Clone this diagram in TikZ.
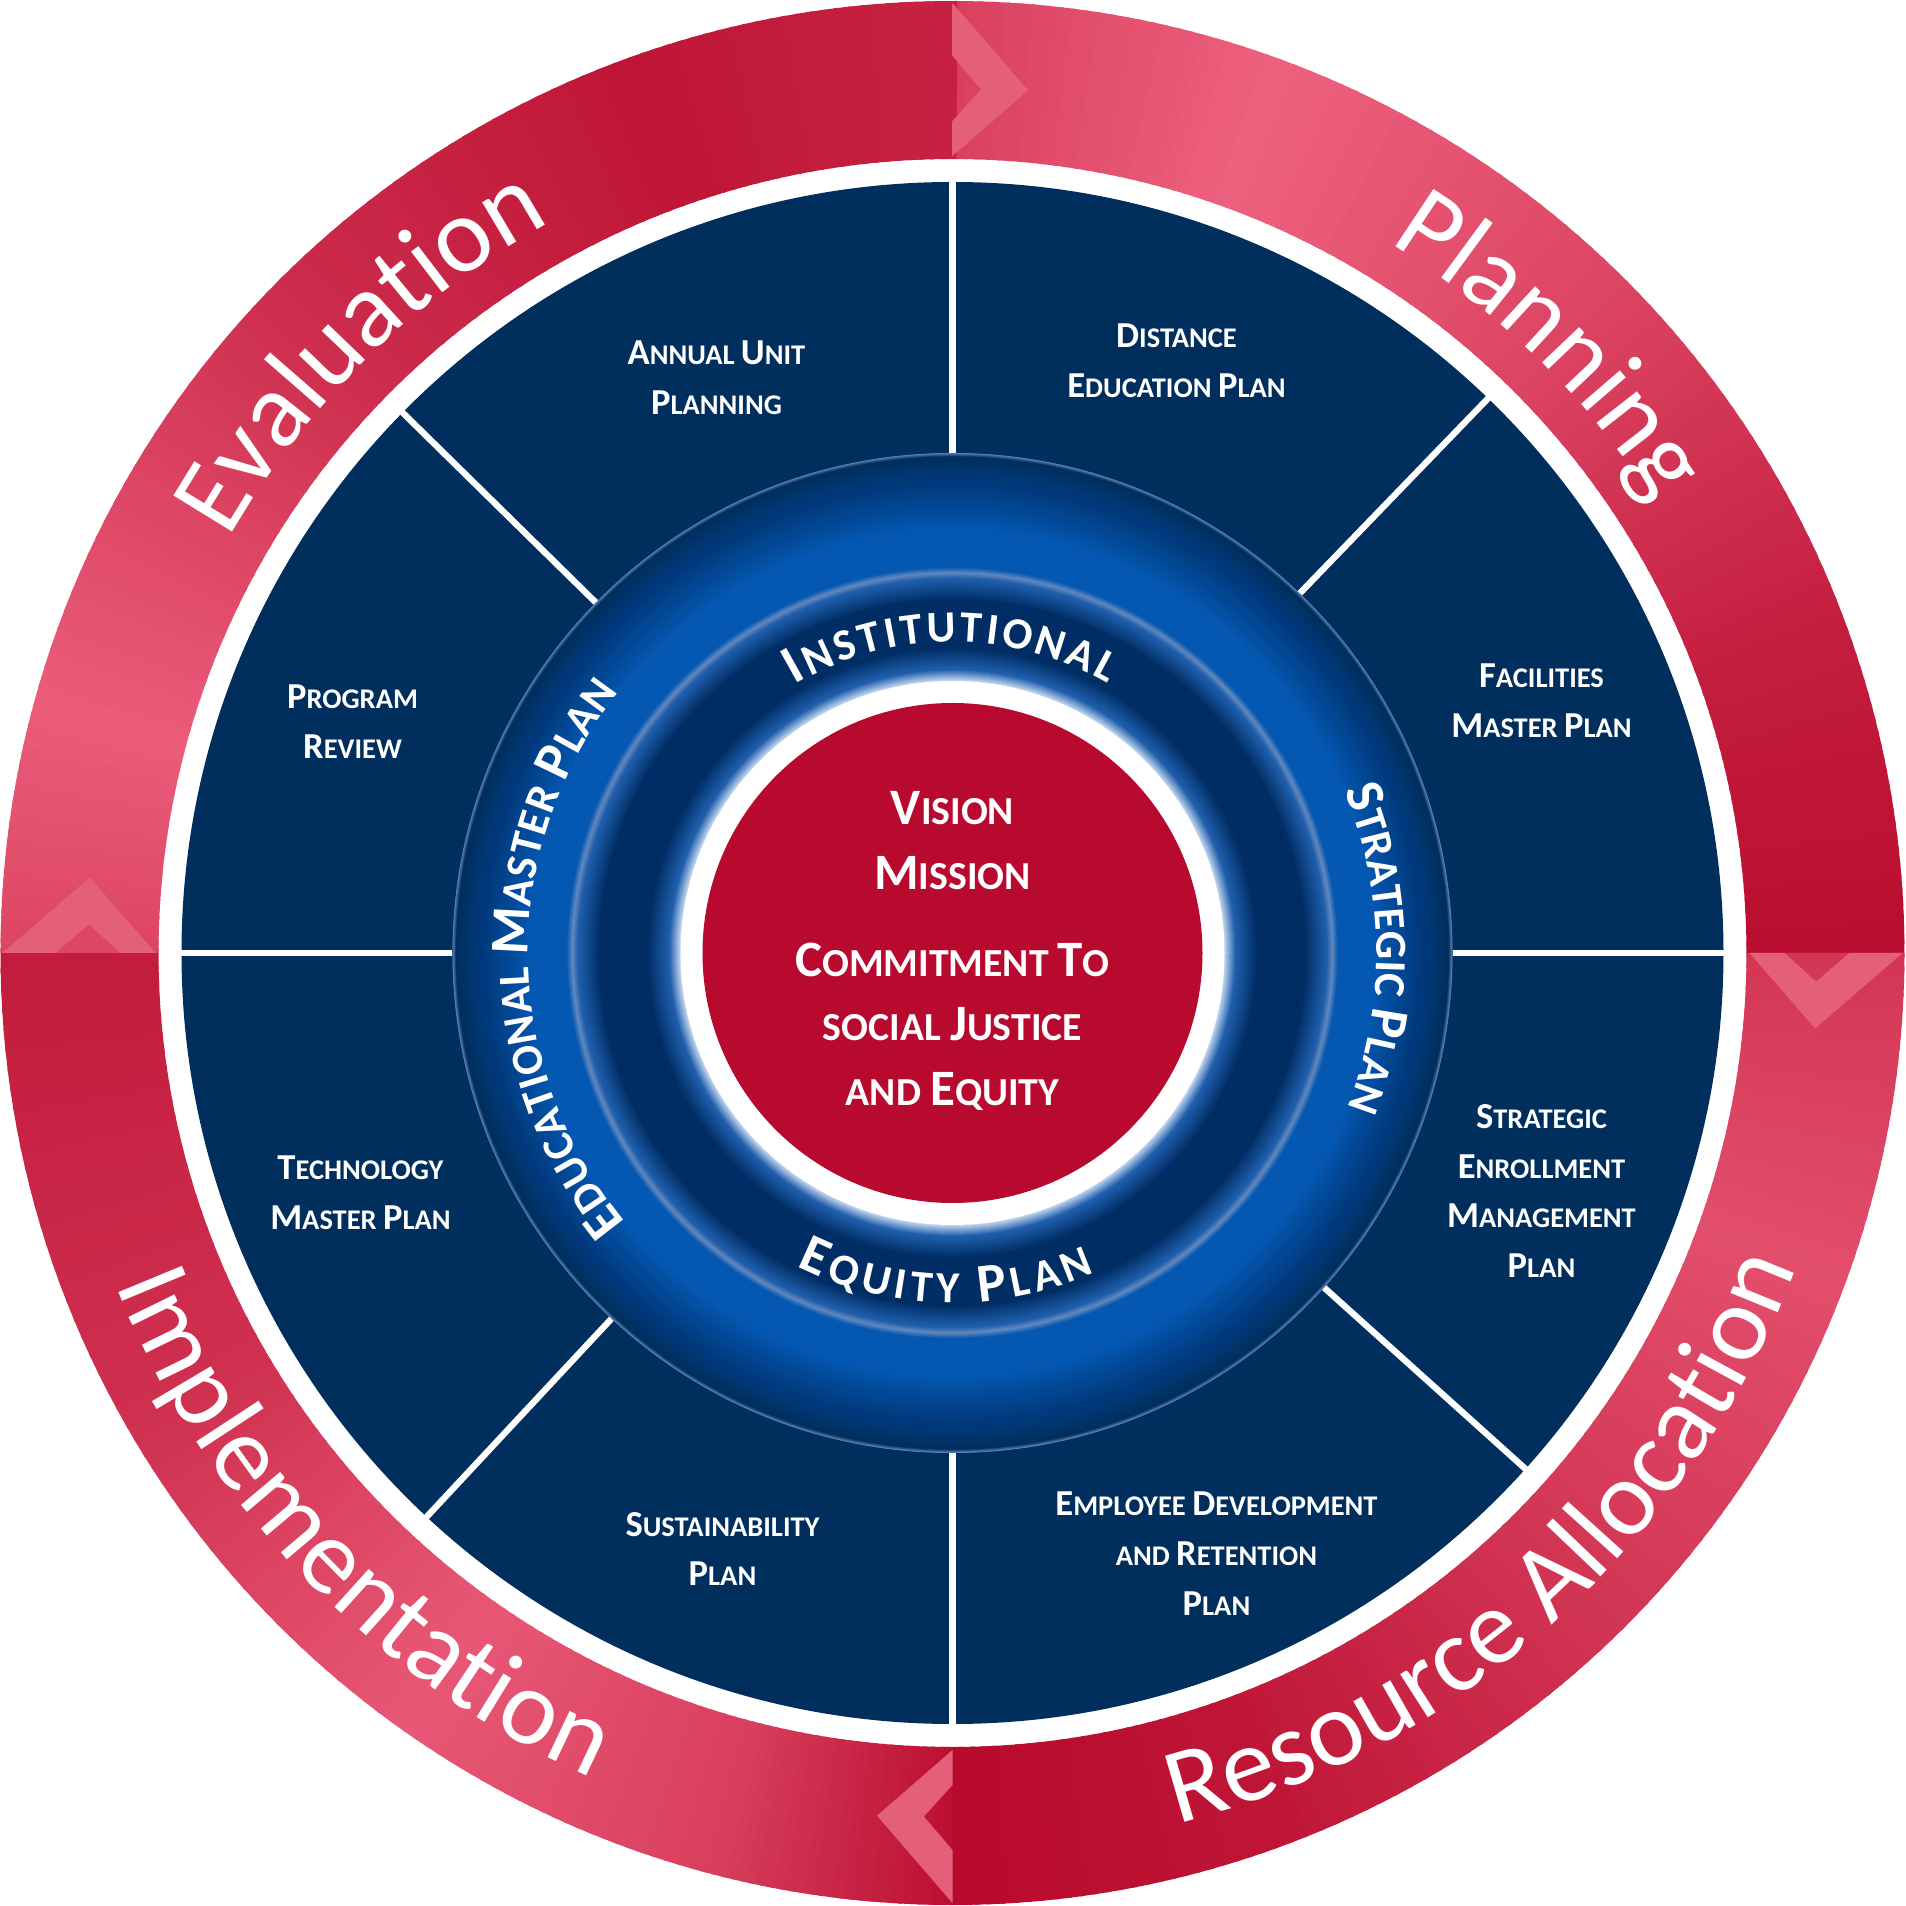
\documentclass[tikz,border=0pt]{standalone}
\usepackage{fontspec}
\setmainfont{Carlito}
\usetikzlibrary{decorations.text}

\definecolor{NavyBlue}{RGB}{0,47,94}
\definecolor{CoreRed}{RGB}{184,10,46}
\definecolor{RingDark}{RGB}{184,10,44}
\definecolor{RingLight}{RGB}{244,108,136}
\definecolor{ChevronEdge}{RGB}{228,96,122}
\definecolor{ChevronLight}{RGB}{242,184,195}
\definecolor{GlowWhite}{RGB}{190,212,238}
\definecolor{GlowSoft}{RGB}{30,92,170}
\definecolor{InnerNavy}{RGB}{0,46,100}
\definecolor{RimBlue}{RGB}{95,135,190}
\definecolor{BandBlue}{RGB}{4,88,178}
\definecolor{BandDeep}{RGB}{0,58,124}

\newcommand{\PlanCap}[1]{{\fontsize{10.4}{14.2}\selectfont #1}}
\newcommand{\CoreCap}[1]{{\fontsize{14.5}{18.4}\selectfont #1}}
\newcommand{\cyclefont}{\fontsize{30.5}{36}\selectfont}
\newcommand{\bandcap}{\bfseries\fontsize{15.5}{18}\selectfont}
\newcommand{\bandsc}{\bfseries\fontsize{12.6}{15}\selectfont}

\begin{document}
\begin{tikzpicture}[
        x=0.01cm, y=0.01cm,
        plan/.style={text=white, font=\bfseries\fontsize{8.1}{14.2}\selectfont, align=center, inner sep=0pt},
        core/.style={text=white, font=\bfseries\fontsize{11.3}{18.4}\selectfont, align=center, inner sep=0pt},
        divider/.style={white, line width=1.8pt},
        cycletext/.style={decorate, decoration={text along path, text color=white, text align=center, text={#1}}},
        bandtext/.style={decorate, decoration={text along path, text color=white, text align=fit to path, text={#1}}}
    ]
        \fill[white] (-952.5,-953) rectangle (952.5,953);
        \useasboundingbox (-952.5,-953) rectangle (952.5,953);

        % Outer cycle ring: start angle/end angle/lightness at start/lightness at end, clockwise
        \foreach \a/\b/\la/\lb in {90/70/55/90, 70/45/90/60, 45/20/60/20, 20/0/20/4,
                0/-20/45/70, -20/-45/70/45, -45/-70/45/12, -70/-90/12/0,
                -90/-105/5/55, -105/-125/55/80, -125/-150/80/40, -150/-180/40/18,
                -180/-195/60/85, -195/-225/85/35, -225/-250/35/12, -250/-270/12/25}
            \foreach \k in {0,...,24} {
                \pgfmathsetmacro{\s}{\a+(\b-\a)*\k/25}
                \pgfmathsetmacro{\e}{\a+(\b-\a)*(\k+1)/25-0.3}
                \pgfmathtruncatemacro{\p}{\la+(\lb-\la)*(\k+0.5)/25}
                \fill[RingLight!\p!RingDark] (\s:952) arc[start angle=\s, end angle=\e, radius=952]
                    -- (\e:794) arc[start angle=\e, end angle=\s, radius=794] -- cycle;
            }

        % Chevrons between the stages
        \foreach \a in {90, 0, 270, 180}
            \shade[top color=ChevronEdge, middle color=ChevronLight, bottom color=ChevronEdge, shading angle=\a-90]
                (\a:950) -- (\a-5:866) -- (\a:797) -- (\a:832) -- (\a-1.9:864) -- (\a:897) -- cycle;

        % Stage labels
        \path[cycletext={|\cyclefont|Evaluation}] (170:834) arc[start angle=170, end angle=99, radius=834];
        \path[cycletext={|\cyclefont|Planning}] (80:834) arc[start angle=80, end angle=11, radius=834];
        \path[cycletext={|\cyclefont|Resource Allocation}] (272:900) arc[start angle=272, end angle=352, radius=900];
        \path[cycletext={|\cyclefont|Implementation}] (184:900) arc[start angle=184, end angle=264, radius=900];

        % Plan sectors
        \fill[NavyBlue] (0,0) circle[radius=771];
        \foreach \a in {0, 46, 90, 135.5, 180, 227, 270, 318}
            \draw[divider] (\a:500) -- (\a:776);

        % Institutional band, glowing rings from outside in
        \foreach \ro/\ri/\co/\ci in {500/496/RimBlue/NavyBlue, 496/470/NavyBlue/BandDeep, 470/420/BandDeep/BandBlue,
                420/386/BandBlue/BandBlue, 386/380/BandBlue/RimBlue, 380/374/RimBlue/GlowSoft, 374/352/GlowSoft/InnerNavy,
                352/306/InnerNavy/InnerNavy, 306/284/InnerNavy/GlowSoft, 284/272/GlowSoft/GlowWhite}
            \foreach \k in {0,...,11} {
                \pgfmathtruncatemacro{\p}{100*\k/11}
                \fill[\ci!\p!\co] (0,0) circle[radius={\ro-(\ro-\ri)*\k/12}];
            }
        \fill[white] (0,0) circle[radius=272];
        \fill[CoreRed] (0,0) circle[radius=250];

        \path[bandtext={|\bandcap|I|\bandsc|NSTITUTIONAL}] (120.5:311) arc[start angle=120.5, end angle=60, radius=311];
        \path[bandtext={|\bandcap|E|\bandsc|QUITY |\bandcap|P|\bandsc|LAN}] (243.5:350) arc[start angle=243.5, end angle=294, radius=350];
        \path[bandtext={|\bandcap|S|\bandsc|TRATEGIC |\bandcap|P|\bandsc|LAN}] (22.5:424) arc[start angle=22.5, end angle=-21.5, radius=424];
        \path[bandtext={|\bandcap|E|\bandsc|DUCATIONAL |\bandcap|M|\bandsc|ASTER |\bandcap|P|\bandsc|LAN}] (219.5:424) arc[start angle=219.5, end angle=142, radius=424];

        % Core statement
        \node[core] (core) at (0,2) {\CoreCap{V}ISION\\ \CoreCap{M}ISSION\\[6.3pt] \CoreCap{C}OMMITMENT \CoreCap{T}O\\ SOCIAL \CoreCap{J}USTICE\\ AND \CoreCap{E}QUITY};

        % Plan labels
        \node[plan] (annual) at (-236,575) {\PlanCap{A}NNUAL \PlanCap{U}NIT\\ \PlanCap{P}LANNING};
        \node[plan] (distance) at (224,592) {\PlanCap{D}ISTANCE\\ \PlanCap{E}DUCATION \PlanCap{P}LAN};
        \node[plan] (facilities) at (589,252) {\PlanCap{F}ACILITIES\\ \PlanCap{M}ASTER \PlanCap{P}LAN};
        \node[plan] (enrollment) at (589,-238) {\PlanCap{S}TRATEGIC\\ \PlanCap{E}NROLLMENT\\ \PlanCap{M}ANAGEMENT\\ \PlanCap{P}LAN};
        \node[plan] (employee) at (264,-601) {\PlanCap{E}MPLOYEE \PlanCap{D}EVELOPMENT\\ AND \PlanCap{R}ETENTION\\ \PlanCap{P}LAN};
        \node[plan] (sustainability) at (-230,-596) {\PlanCap{S}USTAINABILITY\\ \PlanCap{P}LAN};
        \node[plan] (technology) at (-592,-240) {\PlanCap{T}ECHNOLOGY\\ \PlanCap{M}ASTER \PlanCap{P}LAN};
        \node[plan] (review) at (-600,231) {\PlanCap{P}ROGRAM\\ \PlanCap{R}EVIEW};
    \end{tikzpicture}
\end{document}
